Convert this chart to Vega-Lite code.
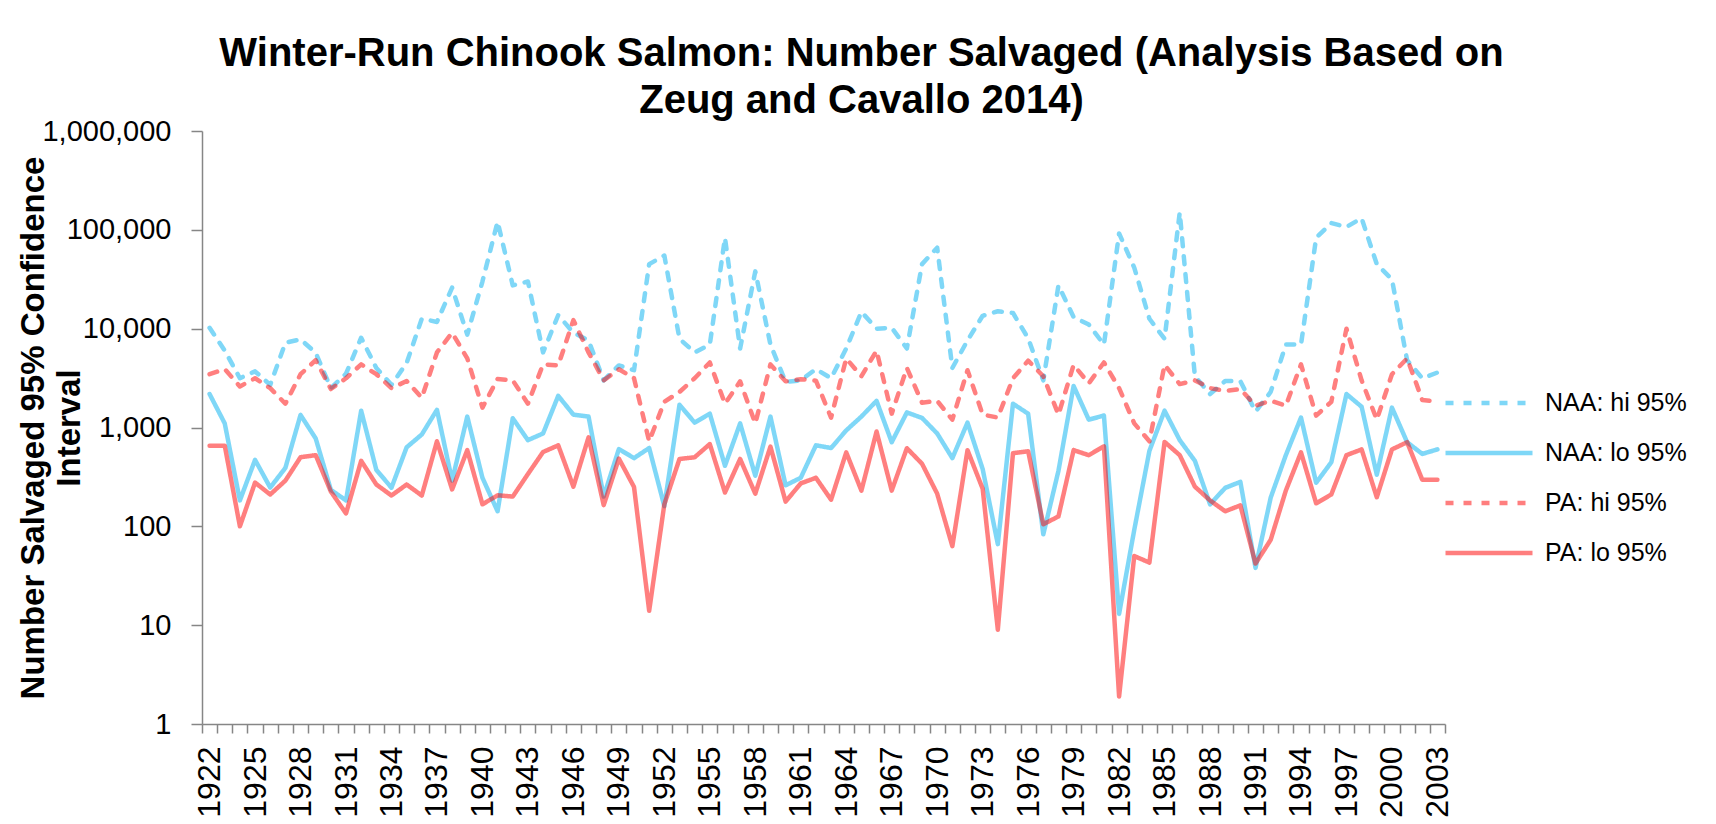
{
  "$schema": "https://vega.github.io/schema/vega-lite/v6.json",
  "autosize": {"type": "none"},
  "padding": {"left": 202, "top": 131, "right": 271, "bottom": 100},
  "width": 1243,
  "height": 593,
  "background": "white",
  "config": {"view": {"stroke": null}, "font": "Liberation Sans"},
  "title": {
    "text": ["Winter-Run Chinook Salmon: Number Salvaged (Analysis Based on", "Zeug and Cavallo 2014)"],
    "font": "Liberation Sans", "fontSize": 40, "fontWeight": "bold", "color": "black",
    "lineHeight": 47, "anchor": "middle", "dx": 38, "offset": -4
  },
  "data": {"values": [
{"year":1922,"series":"NAA: hi 95%","value":10200},{"year":1922,"series":"NAA: lo 95%","value":2180},{"year":1922,"series":"PA: hi 95%","value":3460},{"year":1922,"series":"PA: lo 95%","value":655},
{"year":1923,"series":"NAA: hi 95%","value":6000},{"year":1923,"series":"NAA: lo 95%","value":1100},{"year":1923,"series":"PA: hi 95%","value":3900},{"year":1923,"series":"PA: lo 95%","value":655},
{"year":1924,"series":"NAA: hi 95%","value":3150},{"year":1924,"series":"NAA: lo 95%","value":183},{"year":1924,"series":"PA: hi 95%","value":2600},{"year":1924,"series":"PA: lo 95%","value":100},
{"year":1925,"series":"NAA: hi 95%","value":3700},{"year":1925,"series":"NAA: lo 95%","value":470},{"year":1925,"series":"PA: hi 95%","value":3150},{"year":1925,"series":"PA: lo 95%","value":277},
{"year":1926,"series":"NAA: hi 95%","value":2700},{"year":1926,"series":"NAA: lo 95%","value":247},{"year":1926,"series":"PA: hi 95%","value":2500},{"year":1926,"series":"PA: lo 95%","value":210},
{"year":1927,"series":"NAA: hi 95%","value":7200},{"year":1927,"series":"NAA: lo 95%","value":390},{"year":1927,"series":"PA: hi 95%","value":1740},{"year":1927,"series":"PA: lo 95%","value":290},
{"year":1928,"series":"NAA: hi 95%","value":7800},{"year":1928,"series":"NAA: lo 95%","value":1340},{"year":1928,"series":"PA: hi 95%","value":3460},{"year":1928,"series":"PA: lo 95%","value":500},
{"year":1929,"series":"NAA: hi 95%","value":5700},{"year":1929,"series":"NAA: lo 95%","value":775},{"year":1929,"series":"PA: hi 95%","value":4800},{"year":1929,"series":"PA: lo 95%","value":525},
{"year":1930,"series":"NAA: hi 95%","value":2500},{"year":1930,"series":"NAA: lo 95%","value":234},{"year":1930,"series":"PA: hi 95%","value":2450},{"year":1930,"series":"PA: lo 95%","value":225},
{"year":1931,"series":"NAA: hi 95%","value":3500},{"year":1931,"series":"NAA: lo 95%","value":183},{"year":1931,"series":"PA: hi 95%","value":3150},{"year":1931,"series":"PA: lo 95%","value":135},
{"year":1932,"series":"NAA: hi 95%","value":8100},{"year":1932,"series":"NAA: lo 95%","value":1480},{"year":1932,"series":"PA: hi 95%","value":4350},{"year":1932,"series":"PA: lo 95%","value":460},
{"year":1933,"series":"NAA: hi 95%","value":4000},{"year":1933,"series":"NAA: lo 95%","value":373},{"year":1933,"series":"PA: hi 95%","value":3460},{"year":1933,"series":"PA: lo 95%","value":265},
{"year":1934,"series":"NAA: hi 95%","value":2700},{"year":1934,"series":"NAA: lo 95%","value":246},{"year":1934,"series":"PA: hi 95%","value":2500},{"year":1934,"series":"PA: lo 95%","value":205},
{"year":1935,"series":"NAA: hi 95%","value":4500},{"year":1935,"series":"NAA: lo 95%","value":630},{"year":1935,"series":"PA: hi 95%","value":2950},{"year":1935,"series":"PA: lo 95%","value":265},
{"year":1936,"series":"NAA: hi 95%","value":12600},{"year":1936,"series":"NAA: lo 95%","value":850},{"year":1936,"series":"PA: hi 95%","value":2000},{"year":1936,"series":"PA: lo 95%","value":205},
{"year":1937,"series":"NAA: hi 95%","value":11700},{"year":1937,"series":"NAA: lo 95%","value":1510},{"year":1937,"series":"PA: hi 95%","value":5750},{"year":1937,"series":"PA: lo 95%","value":725},
{"year":1938,"series":"NAA: hi 95%","value":26000},{"year":1938,"series":"NAA: lo 95%","value":290},{"year":1938,"series":"PA: hi 95%","value":9100},{"year":1938,"series":"PA: lo 95%","value":236},
{"year":1939,"series":"NAA: hi 95%","value":8700},{"year":1939,"series":"NAA: lo 95%","value":1290},{"year":1939,"series":"PA: hi 95%","value":5000},{"year":1939,"series":"PA: lo 95%","value":590},
{"year":1940,"series":"NAA: hi 95%","value":30000},{"year":1940,"series":"NAA: lo 95%","value":310},{"year":1940,"series":"PA: hi 95%","value":1590},{"year":1940,"series":"PA: lo 95%","value":167},
{"year":1941,"series":"NAA: hi 95%","value":121000},{"year":1941,"series":"NAA: lo 95%","value":142},{"year":1941,"series":"PA: hi 95%","value":3100},{"year":1941,"series":"PA: lo 95%","value":206},
{"year":1942,"series":"NAA: hi 95%","value":27400},{"year":1942,"series":"NAA: lo 95%","value":1240},{"year":1942,"series":"PA: hi 95%","value":3000},{"year":1942,"series":"PA: lo 95%","value":200},
{"year":1943,"series":"NAA: hi 95%","value":30000},{"year":1943,"series":"NAA: lo 95%","value":745},{"year":1943,"series":"PA: hi 95%","value":1740},{"year":1943,"series":"PA: lo 95%","value":338},
{"year":1944,"series":"NAA: hi 95%","value":5750},{"year":1944,"series":"NAA: lo 95%","value":870},{"year":1944,"series":"PA: hi 95%","value":4350},{"year":1944,"series":"PA: lo 95%","value":565},
{"year":1945,"series":"NAA: hi 95%","value":13700},{"year":1945,"series":"NAA: lo 95%","value":2090},{"year":1945,"series":"PA: hi 95%","value":4250},{"year":1945,"series":"PA: lo 95%","value":660},
{"year":1946,"series":"NAA: hi 95%","value":9100},{"year":1946,"series":"NAA: lo 95%","value":1350},{"year":1946,"series":"PA: hi 95%","value":12200},{"year":1946,"series":"PA: lo 95%","value":252},
{"year":1947,"series":"NAA: hi 95%","value":7600},{"year":1947,"series":"NAA: lo 95%","value":1290},{"year":1947,"series":"PA: hi 95%","value":5750},{"year":1947,"series":"PA: lo 95%","value":795},
{"year":1948,"series":"NAA: hi 95%","value":3000},{"year":1948,"series":"NAA: lo 95%","value":200},{"year":1948,"series":"PA: hi 95%","value":3000},{"year":1948,"series":"PA: lo 95%","value":164},
{"year":1949,"series":"NAA: hi 95%","value":4250},{"year":1949,"series":"NAA: lo 95%","value":605},{"year":1949,"series":"PA: hi 95%","value":3880},{"year":1949,"series":"PA: lo 95%","value":485},
{"year":1950,"series":"NAA: hi 95%","value":3800},{"year":1950,"series":"NAA: lo 95%","value":490},{"year":1950,"series":"PA: hi 95%","value":3150},{"year":1950,"series":"PA: lo 95%","value":250},
{"year":1951,"series":"NAA: hi 95%","value":45000},{"year":1951,"series":"NAA: lo 95%","value":620},{"year":1951,"series":"PA: hi 95%","value":725},{"year":1951,"series":"PA: lo 95%","value":14},
{"year":1952,"series":"NAA: hi 95%","value":55000},{"year":1952,"series":"NAA: lo 95%","value":160},{"year":1952,"series":"PA: hi 95%","value":1820},{"year":1952,"series":"PA: lo 95%","value":167},
{"year":1953,"series":"NAA: hi 95%","value":7900},{"year":1953,"series":"NAA: lo 95%","value":1700},{"year":1953,"series":"PA: hi 95%","value":2290},{"year":1953,"series":"PA: lo 95%","value":480},
{"year":1954,"series":"NAA: hi 95%","value":5750},{"year":1954,"series":"NAA: lo 95%","value":1120},{"year":1954,"series":"PA: hi 95%","value":3150},{"year":1954,"series":"PA: lo 95%","value":500},
{"year":1955,"series":"NAA: hi 95%","value":6900},{"year":1955,"series":"NAA: lo 95%","value":1380},{"year":1955,"series":"PA: hi 95%","value":4550},{"year":1955,"series":"PA: lo 95%","value":680},
{"year":1956,"series":"NAA: hi 95%","value":83000},{"year":1956,"series":"NAA: lo 95%","value":410},{"year":1956,"series":"PA: hi 95%","value":1740},{"year":1956,"series":"PA: lo 95%","value":220},
{"year":1957,"series":"NAA: hi 95%","value":6300},{"year":1957,"series":"NAA: lo 95%","value":1100},{"year":1957,"series":"PA: hi 95%","value":2930},{"year":1957,"series":"PA: lo 95%","value":480},
{"year":1958,"series":"NAA: hi 95%","value":38000},{"year":1958,"series":"NAA: lo 95%","value":325},{"year":1958,"series":"PA: hi 95%","value":1100},{"year":1958,"series":"PA: lo 95%","value":214},
{"year":1959,"series":"NAA: hi 95%","value":6900},{"year":1959,"series":"NAA: lo 95%","value":1290},{"year":1959,"series":"PA: hi 95%","value":4350},{"year":1959,"series":"PA: lo 95%","value":640},
{"year":1960,"series":"NAA: hi 95%","value":2900},{"year":1960,"series":"NAA: lo 95%","value":260},{"year":1960,"series":"PA: hi 95%","value":2930},{"year":1960,"series":"PA: lo 95%","value":178},
{"year":1961,"series":"NAA: hi 95%","value":3000},{"year":1961,"series":"NAA: lo 95%","value":310},{"year":1961,"series":"PA: hi 95%","value":3080},{"year":1961,"series":"PA: lo 95%","value":272},
{"year":1962,"series":"NAA: hi 95%","value":3900},{"year":1962,"series":"NAA: lo 95%","value":660},{"year":1962,"series":"PA: hi 95%","value":2980},{"year":1962,"series":"PA: lo 95%","value":310},
{"year":1963,"series":"NAA: hi 95%","value":3150},{"year":1963,"series":"NAA: lo 95%","value":620},{"year":1963,"series":"PA: hi 95%","value":1260},{"year":1963,"series":"PA: lo 95%","value":186},
{"year":1964,"series":"NAA: hi 95%","value":6300},{"year":1964,"series":"NAA: lo 95%","value":935},{"year":1964,"series":"PA: hi 95%","value":5000},{"year":1964,"series":"PA: lo 95%","value":560},
{"year":1965,"series":"NAA: hi 95%","value":14800},{"year":1965,"series":"NAA: lo 95%","value":1290},{"year":1965,"series":"PA: hi 95%","value":3300},{"year":1965,"series":"PA: lo 95%","value":230},
{"year":1966,"series":"NAA: hi 95%","value":10000},{"year":1966,"series":"NAA: lo 95%","value":1860},{"year":1966,"series":"PA: hi 95%","value":6000},{"year":1966,"series":"PA: lo 95%","value":910},
{"year":1967,"series":"NAA: hi 95%","value":10200},{"year":1967,"series":"NAA: lo 95%","value":710},{"year":1967,"series":"PA: hi 95%","value":1380},{"year":1967,"series":"PA: lo 95%","value":230},
{"year":1968,"series":"NAA: hi 95%","value":6300},{"year":1968,"series":"NAA: lo 95%","value":1420},{"year":1968,"series":"PA: hi 95%","value":4000},{"year":1968,"series":"PA: lo 95%","value":617},
{"year":1969,"series":"NAA: hi 95%","value":45000},{"year":1969,"series":"NAA: lo 95%","value":1250},{"year":1969,"series":"PA: hi 95%","value":1780},{"year":1969,"series":"PA: lo 95%","value":430},
{"year":1970,"series":"NAA: hi 95%","value":66000},{"year":1970,"series":"NAA: lo 95%","value":870},{"year":1970,"series":"PA: hi 95%","value":1860},{"year":1970,"series":"PA: lo 95%","value":214},
{"year":1971,"series":"NAA: hi 95%","value":4000},{"year":1971,"series":"NAA: lo 95%","value":490},{"year":1971,"series":"PA: hi 95%","value":1200},{"year":1971,"series":"PA: lo 95%","value":63},
{"year":1972,"series":"NAA: hi 95%","value":7600},{"year":1972,"series":"NAA: lo 95%","value":1120},{"year":1972,"series":"PA: hi 95%","value":3800},{"year":1972,"series":"PA: lo 95%","value":590},
{"year":1973,"series":"NAA: hi 95%","value":13500},{"year":1973,"series":"NAA: lo 95%","value":380},{"year":1973,"series":"PA: hi 95%","value":1350},{"year":1973,"series":"PA: lo 95%","value":240},
{"year":1974,"series":"NAA: hi 95%","value":15000},{"year":1974,"series":"NAA: lo 95%","value":66},{"year":1974,"series":"PA: hi 95%","value":1260},{"year":1974,"series":"PA: lo 95%","value":9},
{"year":1975,"series":"NAA: hi 95%","value":14400},{"year":1975,"series":"NAA: lo 95%","value":1740},{"year":1975,"series":"PA: hi 95%","value":3150},{"year":1975,"series":"PA: lo 95%","value":550},
{"year":1976,"series":"NAA: hi 95%","value":8000},{"year":1976,"series":"NAA: lo 95%","value":1380},{"year":1976,"series":"PA: hi 95%","value":4750},{"year":1976,"series":"PA: lo 95%","value":575},
{"year":1977,"series":"NAA: hi 95%","value":3000},{"year":1977,"series":"NAA: lo 95%","value":83},{"year":1977,"series":"PA: hi 95%","value":3300},{"year":1977,"series":"PA: lo 95%","value":105},
{"year":1978,"series":"NAA: hi 95%","value":27400},{"year":1978,"series":"NAA: lo 95%","value":365},{"year":1978,"series":"PA: hi 95%","value":1350},{"year":1978,"series":"PA: lo 95%","value":126},
{"year":1979,"series":"NAA: hi 95%","value":13100},{"year":1979,"series":"NAA: lo 95%","value":2630},{"year":1979,"series":"PA: hi 95%","value":4300},{"year":1979,"series":"PA: lo 95%","value":590},
{"year":1980,"series":"NAA: hi 95%","value":11000},{"year":1980,"series":"NAA: lo 95%","value":1200},{"year":1980,"series":"PA: hi 95%","value":2800},{"year":1980,"series":"PA: lo 95%","value":525},
{"year":1981,"series":"NAA: hi 95%","value":6900},{"year":1981,"series":"NAA: lo 95%","value":1320},{"year":1981,"series":"PA: hi 95%","value":4550},{"year":1981,"series":"PA: lo 95%","value":645},
{"year":1982,"series":"NAA: hi 95%","value":92000},{"year":1982,"series":"NAA: lo 95%","value":13},{"year":1982,"series":"PA: hi 95%","value":2500},{"year":1982,"series":"PA: lo 95%","value":1.9},
{"year":1983,"series":"NAA: hi 95%","value":41500},{"year":1983,"series":"NAA: lo 95%","value":92},{"year":1983,"series":"PA: hi 95%","value":1100},{"year":1983,"series":"PA: lo 95%","value":50},
{"year":1984,"series":"NAA: hi 95%","value":12600},{"year":1984,"series":"NAA: lo 95%","value":580},{"year":1984,"series":"PA: hi 95%","value":725},{"year":1984,"series":"PA: lo 95%","value":43},
{"year":1985,"series":"NAA: hi 95%","value":7900},{"year":1985,"series":"NAA: lo 95%","value":1480},{"year":1985,"series":"PA: hi 95%","value":4300},{"year":1985,"series":"PA: lo 95%","value":715},
{"year":1986,"series":"NAA: hi 95%","value":150000},{"year":1986,"series":"NAA: lo 95%","value":745},{"year":1986,"series":"PA: hi 95%","value":2750},{"year":1986,"series":"PA: lo 95%","value":525},
{"year":1987,"series":"NAA: hi 95%","value":3300},{"year":1987,"series":"NAA: lo 95%","value":460},{"year":1987,"series":"PA: hi 95%","value":3000},{"year":1987,"series":"PA: lo 95%","value":252},
{"year":1988,"series":"NAA: hi 95%","value":2180},{"year":1988,"series":"NAA: lo 95%","value":167},{"year":1988,"series":"PA: hi 95%","value":2500},{"year":1988,"series":"PA: lo 95%","value":183},
{"year":1989,"series":"NAA: hi 95%","value":2950},{"year":1989,"series":"NAA: lo 95%","value":245},{"year":1989,"series":"PA: hi 95%","value":2350},{"year":1989,"series":"PA: lo 95%","value":142},
{"year":1990,"series":"NAA: hi 95%","value":2950},{"year":1990,"series":"NAA: lo 95%","value":282},{"year":1990,"series":"PA: hi 95%","value":2450},{"year":1990,"series":"PA: lo 95%","value":163},
{"year":1991,"series":"NAA: hi 95%","value":1450},{"year":1991,"series":"NAA: lo 95%","value":38},{"year":1991,"series":"PA: hi 95%","value":1660},{"year":1991,"series":"PA: lo 95%","value":42},
{"year":1992,"series":"NAA: hi 95%","value":2290},{"year":1992,"series":"NAA: lo 95%","value":195},{"year":1992,"series":"PA: hi 95%","value":1870},{"year":1992,"series":"PA: lo 95%","value":73},
{"year":1993,"series":"NAA: hi 95%","value":6900},{"year":1993,"series":"NAA: lo 95%","value":525},{"year":1993,"series":"PA: hi 95%","value":1660},{"year":1993,"series":"PA: lo 95%","value":230},
{"year":1994,"series":"NAA: hi 95%","value":6900},{"year":1994,"series":"NAA: lo 95%","value":1260},{"year":1994,"series":"PA: hi 95%","value":4350},{"year":1994,"series":"PA: lo 95%","value":560},
{"year":1995,"series":"NAA: hi 95%","value":83000},{"year":1995,"series":"NAA: lo 95%","value":276},{"year":1995,"series":"PA: hi 95%","value":1320},{"year":1995,"series":"PA: lo 95%","value":171},
{"year":1996,"series":"NAA: hi 95%","value":117000},{"year":1996,"series":"NAA: lo 95%","value":445},{"year":1996,"series":"PA: hi 95%","value":1820},{"year":1996,"series":"PA: lo 95%","value":210},
{"year":1997,"series":"NAA: hi 95%","value":107000},{"year":1997,"series":"NAA: lo 95%","value":2180},{"year":1997,"series":"PA: hi 95%","value":10000},{"year":1997,"series":"PA: lo 95%","value":525},
{"year":1998,"series":"NAA: hi 95%","value":131000},{"year":1998,"series":"NAA: lo 95%","value":1620},{"year":1998,"series":"PA: hi 95%","value":3000},{"year":1998,"series":"PA: lo 95%","value":600},
{"year":1999,"series":"NAA: hi 95%","value":45000},{"year":1999,"series":"NAA: lo 95%","value":333},{"year":1999,"series":"PA: hi 95%","value":1200},{"year":1999,"series":"PA: lo 95%","value":197},
{"year":2000,"series":"NAA: hi 95%","value":31500},{"year":2000,"series":"NAA: lo 95%","value":1590},{"year":2000,"series":"PA: hi 95%","value":3460},{"year":2000,"series":"PA: lo 95%","value":600},
{"year":2001,"series":"NAA: hi 95%","value":4800},{"year":2001,"series":"NAA: lo 95%","value":710},{"year":2001,"series":"PA: hi 95%","value":5000},{"year":2001,"series":"PA: lo 95%","value":710},
{"year":2002,"series":"NAA: hi 95%","value":3150},{"year":2002,"series":"NAA: lo 95%","value":540},{"year":2002,"series":"PA: hi 95%","value":1900},{"year":2002,"series":"PA: lo 95%","value":296},
{"year":2003,"series":"NAA: hi 95%","value":3600},{"year":2003,"series":"NAA: lo 95%","value":600},{"year":2003,"series":"PA: hi 95%","value":1820},{"year":2003,"series":"PA: lo 95%","value":296}
  ]},
  "encoding": {
    "y": {
      "field": "value", "type": "quantitative",
      "scale": {"type": "log", "domain": [1, 1000000], "nice": false},
      "axis": {
        "values": [1, 10, 100, 1000, 10000, 100000, 1000000],
        "format": ",", "grid": false,
        "labelFontSize": 29, "labelColor": "black", "labelFont": "Liberation Sans",
        "labelPadding": 20, "tickSize": 11, "tickColor": "#868686", "tickWidth": 1.5,
        "domainColor": "#868686", "domainWidth": 1.5,
        "title": ["Number Salvaged 95% Confidence", "Interval"],
        "titleFont": "Liberation Sans", "titleFontSize": 33, "titleFontWeight": "bold",
        "titleColor": "black", "titleLineHeight": 36, "titleX": -152
      }
    },
    "color": {
      "field": "series", "type": "nominal",
      "scale": {"domain": ["NAA: hi 95%", "NAA: lo 95%", "PA: hi 95%", "PA: lo 95%"],
                "range": ["#00B0F0", "#00B0F0", "#FF0000", "#FF0000"]},
      "legend": {
        "title": null, "orient": "none", "legendX": 1270, "legendY": 255,
        "symbolType": "M-3,0H3", "symbolSize": 841, "symbolStrokeWidth": 4.5,
        "symbolOpacity": 0.5, "labelFontSize": 25, "labelFont": "Liberation Sans",
        "labelColor": "black", "rowPadding": 20, "labelOffset": 39
      }
    },
    "strokeDash": {
      "field": "series", "type": "nominal",
      "scale": {"domain": ["NAA: hi 95%", "NAA: lo 95%", "PA: hi 95%", "PA: lo 95%"],
                "range": [[8, 10], [1, 0], [8, 10], [1, 0]]},
      "legend": {
        "title": null, "orient": "none", "legendX": 1270, "legendY": 255,
        "symbolType": "M-3,0H3", "symbolSize": 841, "symbolStrokeWidth": 4.5,
        "symbolOpacity": 0.5, "labelFontSize": 25, "labelFont": "Liberation Sans",
        "labelColor": "black", "rowPadding": 20, "labelOffset": 39
      }
    }
  },
  "layer": [
    {
      "transform": [{"filter": {"field": "series", "oneOf": ["NAA: hi 95%", "NAA: lo 95%"]}}],
      "mark": {"type": "line", "strokeWidth": 4.5, "strokeCap": "round", "strokeJoin": "round", "opacity": 0.5},
      "encoding": {
        "x": {
          "field": "year", "type": "quantitative",
          "scale": {"domain": [1921.5, 2003.5], "nice": false, "zero": false},
          "axis": {
            "orient": "bottom",
            "values": [1922,1925,1928,1931,1934,1937,1940,1943,1946,1949,1952,1955,1958,1961,1964,1967,1970,1973,1976,1979,1982,1985,1988,1991,1994,1997,2000,2003],
            "format": "d", "labelAngle": 270, "ticks": false, "domain": false, "grid": false,
            "labelFontSize": 32, "labelColor": "black", "labelFont": "Liberation Sans",
            "labelPadding": 22, "labelFlush": false, "labelOverlap": false, "title": null
          }
        }
      }
    },
    {
      "transform": [{"filter": {"field": "series", "oneOf": ["PA: hi 95%", "PA: lo 95%"]}}],
      "mark": {"type": "line", "strokeWidth": 4.5, "strokeCap": "round", "strokeJoin": "round", "opacity": 0.5},
      "encoding": {
        "x": {
          "field": "year", "type": "quantitative",
          "scale": {"domain": [1921.5, 2003.5], "nice": false, "zero": false},
          "axis": {
            "orient": "bottom",
            "values": [1921.5,1922.5,1923.5,1924.5,1925.5,1926.5,1927.5,1928.5,1929.5,1930.5,1931.5,1932.5,1933.5,1934.5,1935.5,1936.5,1937.5,1938.5,1939.5,1940.5,1941.5,1942.5,1943.5,1944.5,1945.5,1946.5,1947.5,1948.5,1949.5,1950.5,1951.5,1952.5,1953.5,1954.5,1955.5,1956.5,1957.5,1958.5,1959.5,1960.5,1961.5,1962.5,1963.5,1964.5,1965.5,1966.5,1967.5,1968.5,1969.5,1970.5,1971.5,1972.5,1973.5,1974.5,1975.5,1976.5,1977.5,1978.5,1979.5,1980.5,1981.5,1982.5,1983.5,1984.5,1985.5,1986.5,1987.5,1988.5,1989.5,1990.5,1991.5,1992.5,1993.5,1994.5,1995.5,1996.5,1997.5,1998.5,1999.5,2000.5,2001.5,2002.5,2003.5],
            "labels": false, "grid": false, "tickSize": 9, "tickColor": "#868686", "tickWidth": 1.5,
            "domainColor": "#868686", "domainWidth": 1.5, "title": null
          }
        }
      }
    }
  ],
  "resolve": {"axis": {"x": "independent"}}
}
